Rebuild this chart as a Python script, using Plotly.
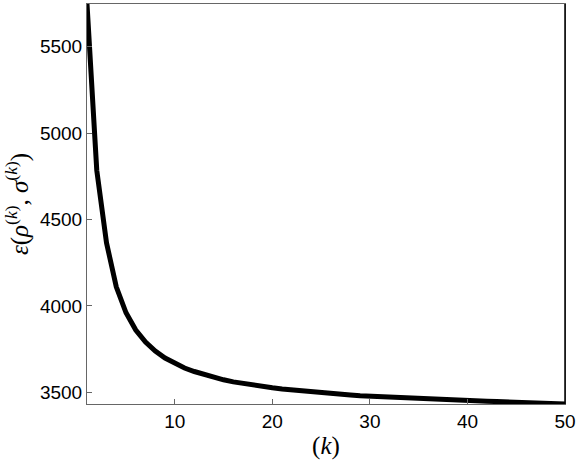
import plotly.graph_objects as go

# iteration index and objective value
k = list(range(1, 51))
eps = [5747, 4785, 4365, 4110, 3960, 3860, 3790, 3738, 3698, 3665,
       3640, 3620, 3602, 3586, 3572, 3560, 3550, 3541, 3533, 3526,
       3519, 3513, 3507, 3502, 3497, 3492, 3488, 3484, 3480, 3477,
       3474, 3471, 3468, 3465, 3463, 3460, 3458, 3456, 3454, 3452,
       3450, 3448, 3446, 3444, 3442, 3440, 3438, 3436, 3434, 3432]

x_ticks = [10, 20, 30, 40, 50]
y_ticks = [3500, 4000, 4500, 5000, 5500]

fig = go.Figure()
fig.add_trace(go.Scatter(x=k, y=eps, mode="lines",
                         line=dict(color="black", width=5),
                         showlegend=False))

axis_style = dict(showline=True, mirror=True, linecolor="#666666", linewidth=1,
                  ticks="inside", ticklen=5, tickcolor="#666666",
                  showgrid=False, zeroline=False,
                  tickfont=dict(family="Liberation Sans, Arial", size=19, color="black"))

fig.update_xaxes(range=[min(k), max(k)], tickvals=x_ticks,
                 title=dict(text="(<i>k</i>)", standoff=6,
                            font=dict(family="Liberation Serif, serif", size=25, color="black")),
                 **axis_style)
fig.update_yaxes(range=[min(eps), max(eps)], tickvals=y_ticks,
                 title=dict(text="<i>ε</i>(<i>ρ</i><sup>(<i>k</i>)</sup>, <i>σ</i><sup>(<i>k</i>)</sup>)",
                            standoff=4,
                            font=dict(family="Liberation Serif, serif", size=25, color="black")),
                 **axis_style)

# right edge of the box is drawn darker in the reference
fig.add_shape(type="line", xref="x domain", yref="y domain",
              x0=1, x1=1, y0=0, y1=1, line=dict(color="black", width=1.5))

fig.update_layout(width=581, height=460,
                  margin=dict(l=87, r=16, t=4, b=56, autoexpand=False),
                  plot_bgcolor="white", paper_bgcolor="white")

# drop the default page margin so the figure sits at the window corner
fig.write_html("out.html", config={"displayModeBar": False},
               post_script="document.body.style.margin='0';")
